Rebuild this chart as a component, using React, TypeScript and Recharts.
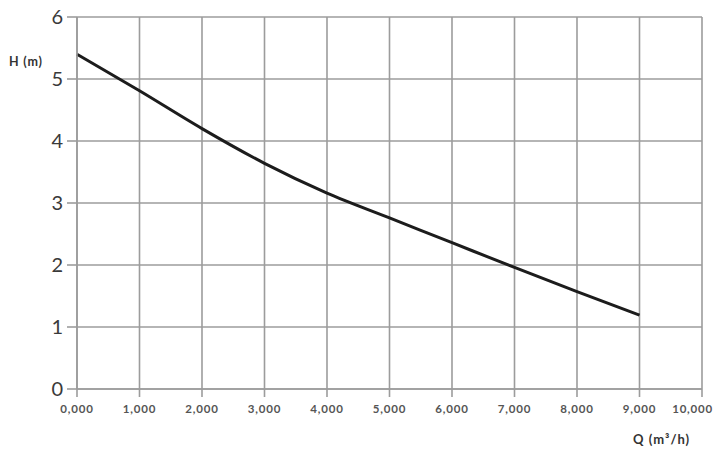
import React from "react";
import { LineChart, Line, XAxis, YAxis, CartesianGrid } from "recharts";

// flow rate Q (m³/h) vs head H (m)
const flow = [0, 1000, 2000, 3000, 4000, 5000, 6000, 7000, 8000, 9000];
const head = [5.4, 4.81, 4.2, 3.64, 3.16, 2.76, 2.36, 1.96, 1.57, 1.19];

const xTicks = [0, 1000, 2000, 3000, 4000, 5000, 6000, 7000, 8000, 9000, 10000];
const xTickLabels = ["0,000", "1,000", "2,000", "3,000", "4,000", "5,000", "6,000", "7,000", "8,000", "9,000", "10,000"];
const yTicks = [0, 1, 2, 3, 4, 5, 6];

const data = flow.map((q, i) => ({ q, h: head[i] }));

const GRID = "#9c9c9c";
const FONT = "Lato, 'Open Sans', sans-serif";

// last label is pulled in so it stays inside the frame
function XTick(props: any) {
  const { x, y, payload, index } = props;
  const last = index === xTicks.length - 1;
  return (
    <text
      x={last ? Math.min(x + 11, 713) : x}
      y={y}
      dy="0.71em"
      textAnchor={last ? "end" : "middle"}
      fill="#555"
      fontSize={11.5}
      fontWeight={700}
      fontFamily={FONT}
      letterSpacing={0.8}
    >
      {xTickLabels[xTicks.indexOf(payload.value)]}
    </text>
  );
}

export default function App() {
  return (
    <div style={{ position: "relative", width: 715, height: 453, background: "#fff", fontFamily: FONT }}>
      <style>{`body{margin:0}`}</style>
      <LineChart width={715} height={453} data={data} margin={{ top: 17, right: 13, bottom: 34, left: 0 }}>
        <CartesianGrid stroke={GRID} strokeWidth={1.6} />
        <XAxis
          dataKey="q"
          type="number"
          domain={[0, 10000]}
          ticks={xTicks}
          tick={<XTick />}
          tickLine={{ stroke: GRID, strokeWidth: 1.6 }}
          tickSize={8}
          tickMargin={8}
          axisLine={{ stroke: GRID, strokeWidth: 1.6 }}
          height={30}
          interval={0}
        />
        <YAxis
          type="number"
          domain={[0, 6]}
          ticks={yTicks}
          tick={{ fill: "#3a3a3a", fontSize: 20, fontFamily: FONT }}
          tickLine={{ stroke: GRID, strokeWidth: 1.6 }}
          tickSize={10}
          tickMargin={4}
          axisLine={{ stroke: GRID, strokeWidth: 1.6 }}
          width={77}
          interval={0}
        />
        <Line
          type="monotone"
          dataKey="h"
          stroke="#1c1c1c"
          strokeWidth={3}
          dot={false}
          isAnimationActive={false}
        />
      </LineChart>
      <div style={{ position: "absolute", left: 9, top: 54, fontSize: 12.5, fontWeight: 700, color: "#333", letterSpacing: 0.8 }}>H (m)</div>
      <div style={{ position: "absolute", left: 633, top: 431, fontSize: 13, fontWeight: 700, color: "#333", letterSpacing: 1 }}>Q (m³/h)</div>
    </div>
  );
}
